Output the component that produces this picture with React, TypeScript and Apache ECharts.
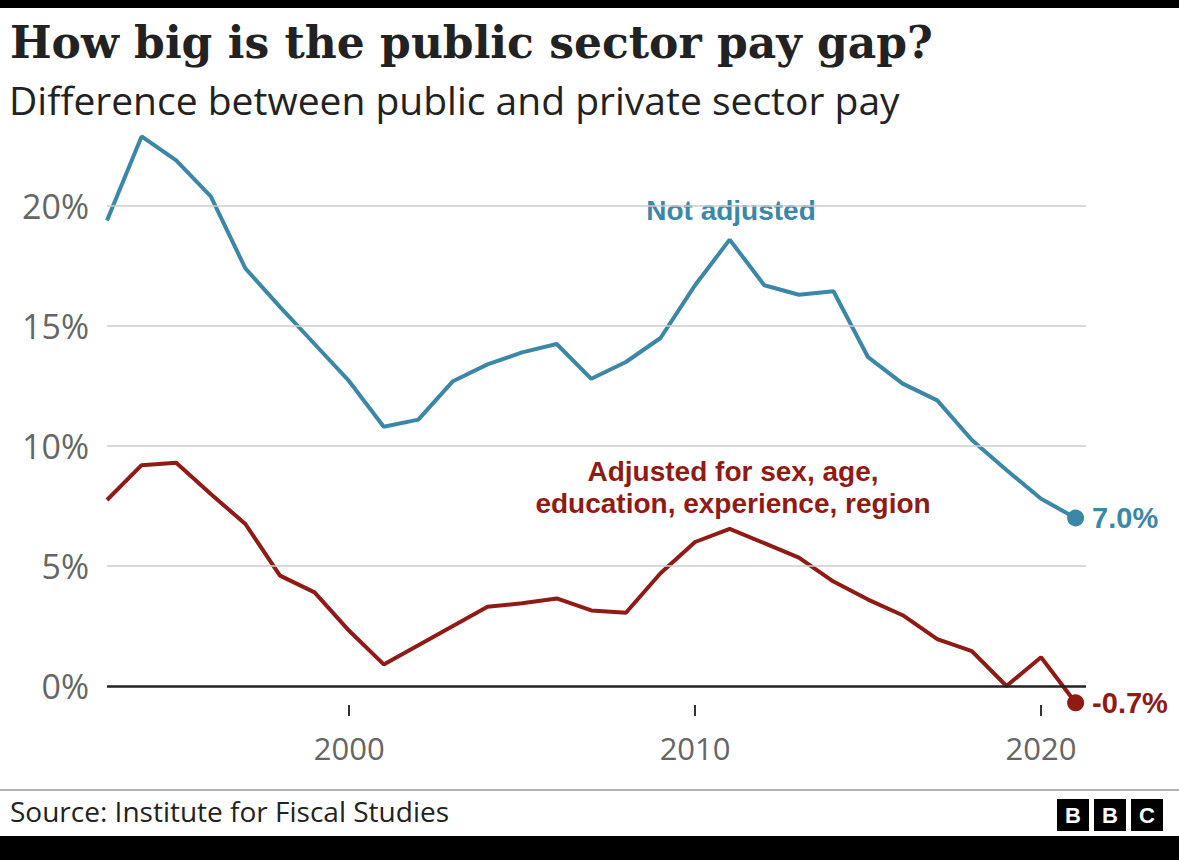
import React, { useRef, useEffect } from 'react'
import * as echarts from 'echarts'

const years = [1993, 1994, 1995, 1996, 1997, 1998, 1999, 2000, 2001, 2002, 2003, 2004, 2005, 2006, 2007,
  2008, 2009, 2010, 2011, 2012, 2013, 2014, 2015, 2016, 2017, 2018, 2019, 2020, 2021]
const notAdjusted = [19.4, 22.9, 21.9, 20.4, 17.4, 15.8, 14.25, 12.7, 10.8, 11.1, 12.7, 13.4, 13.9, 14.25, 12.8,
  13.5, 14.5, 16.7, 18.6, 16.7, 16.3, 16.45, 13.7, 12.6, 11.9, 10.25, 9.0, 7.8, 7.0]
const adjusted = [7.75, 9.2, 9.3, 8.0, 6.75, 4.6, 3.9, 2.3, 0.9, 1.7, 2.5, 3.3, 3.45, 3.65, 3.15,
  3.05, 4.7, 6.0, 6.55, 5.95, 5.35, 4.35, 3.6, 2.95, 1.95, 1.45, 0.0, 1.2, -0.7]
const yTicks = [0, 5, 10, 15, 20]
const xTicks = [2000, 2010, 2020]

const BLUE = '#3b87a7'
const RED = '#901a14'

function lineData(vals: number[], color: string) {
  return vals.map((v, i) => {
    const last = i === vals.length - 1
    return {
      value: [years[i], v],
      symbol: last ? 'circle' : 'none',
      symbolSize: last ? 17 : 0,
      label: last
        ? { show: true, position: 'right', distance: 8, formatter: v.toFixed(1) + '%', color, fontSize: 29, fontWeight: 'bold', fontFamily: 'Liberation Sans' }
        : { show: false },
    }
  })
}

function App() {
  const chartRef = useRef(null)

  useEffect(() => {
    const chart = echarts.init(chartRef.current, null, { renderer: 'svg' })
    const bbc = ['B', 'B', 'C'].flatMap((ch, i) => [
      { type: 'rect', shape: { x: 1057 + i * 37, y: 799, width: 32, height: 32 }, style: { fill: '#000' } },
      { type: 'text', x: 1073 + i * 37, y: 815, style: { text: ch, fill: '#fff', fontSize: 22, fontWeight: 'bold', fontFamily: 'Liberation Sans', align: 'center', verticalAlign: 'middle' } },
    ])
    const option = {
      animation: false,
      backgroundColor: '#fff',
      grid: { left: 107, right: 93, top: 134, bottom: 144 },
      xAxis: {
        type: 'value', min: 1993, max: 2021.3,
        axisLine: { show: false, onZero: false },
        splitLine: { show: false },
        axisTick: { show: true, inside: true, length: 11, customValues: xTicks, lineStyle: { color: '#333', width: 2 } },
        axisLabel: { customValues: xTicks, formatter: (v: number) => String(v), margin: 16, fontSize: 31, color: '#666', fontFamily: 'Open Sans' },
      },
      yAxis: {
        type: 'value', min: -1.25, max: 23,
        axisLine: { show: false }, axisTick: { show: false }, splitLine: { show: false },
        axisLabel: { customValues: yTicks, formatter: '{value}%', margin: 18, fontSize: 34, color: '#666', fontFamily: 'Open Sans' },
      },
      series: [
        {
          type: 'line', data: lineData(notAdjusted, BLUE), lineStyle: { color: BLUE, width: 4 }, itemStyle: { color: BLUE }, z: 3,
          markLine: {
            silent: true, symbol: 'none', label: { show: false },
            data: yTicks.map(v => ({ yAxis: v, lineStyle: { color: v === 0 ? '#222' : '#ccc', width: v === 0 ? 2.5 : 1.5, type: 'solid' } })),
          },
        },
        { type: 'line', data: lineData(adjusted, RED), lineStyle: { color: RED, width: 4 }, itemStyle: { color: RED }, z: 3 },
      ],
      graphic: [
        { type: 'rect', shape: { x: 0, y: 0, width: 1179, height: 8 }, style: { fill: '#000' } },
        { type: 'rect', shape: { x: 0, y: 836, width: 1179, height: 24 }, style: { fill: '#000' } },
        { type: 'text', x: 10, y: 20, style: { text: 'How big is the public sector pay gap?', fontSize: 44, fontWeight: 'bold', fontFamily: 'DejaVu Serif', fill: '#222' } },
        { type: 'text', x: 9, y: 80, style: { text: 'Difference between public and private sector pay', fontSize: 39, fontFamily: 'Open Sans', fill: '#222' } },
        { type: 'text', x: 731, y: 210, style: { text: 'Not adjusted', fontSize: 28, fontWeight: 'bold', fontFamily: 'Liberation Sans', fill: BLUE, align: 'center', verticalAlign: 'middle', backgroundColor: '#fff', padding: [2, 8] } },
        { type: 'text', x: 733, y: 487, style: { text: 'Adjusted for sex, age,\neducation, experience, region', fontSize: 28, lineHeight: 32, fontWeight: 'bold', fontFamily: 'Liberation Sans', fill: RED, align: 'center', verticalAlign: 'middle' } },
        { type: 'line', shape: { x1: 0, y1: 790, x2: 1179, y2: 790 }, style: { stroke: '#999', lineWidth: 1.5 } },
        { type: 'text', x: 10, y: 797, style: { text: 'Source: Institute for Fiscal Studies', fontSize: 28, fontFamily: 'Open Sans', fill: '#222' } },
        ...bbc,
      ],
    }
    chart.setOption(option)
    return () => {
      chart.dispose()
    }
  }, [])

  return <div ref={chartRef} style={{ position: 'fixed', left: 0, top: 0, width: 1179, height: 860 }}></div>
}

export default App
